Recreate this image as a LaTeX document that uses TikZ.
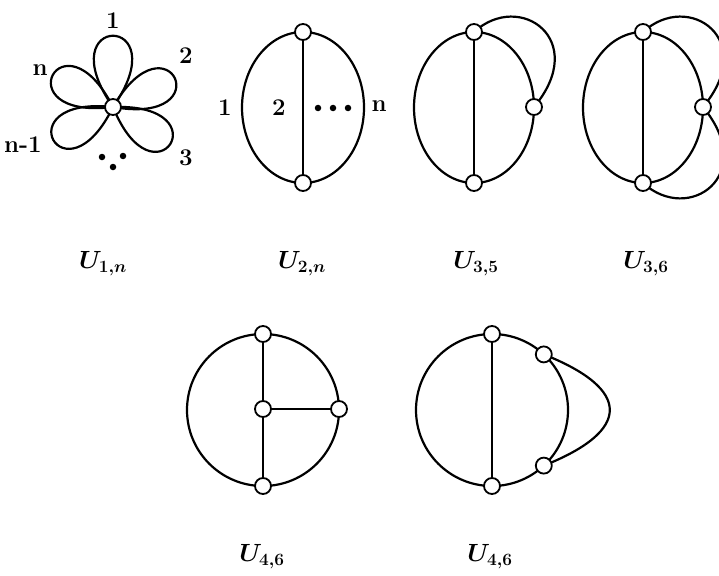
\documentclass[tikz,border=0pt]{standalone}
\usepackage{bm}
\usetikzlibrary{backgrounds}
\begin{document}
\begin{tikzpicture}[x=1pt,y=-1pt,
  edge/.style={line width=2.2pt},
  vtx/.style={circle,draw,fill=white,inner sep=0pt,minimum size=16pt,line width=1.8pt},
  lbl/.style={font=\fontsize{24}{28}\selectfont\bfseries,inner sep=0pt},
  captxt/.style={font=\fontsize{26}{30}\selectfont\boldmath,inner sep=0pt},
  dotm/.style={circle,fill=black,inner sep=0pt,minimum size=6.5pt}]
\useasboundingbox (0,0) rectangle (719,575);
\clip (0,0) rectangle (719,575);

% ---------- U_{1,n}
\node[vtx] (v1) at (113,107) {};
\begin{scope}[on background layer]
\foreach \a/\d in {-90/116,-25/111,33/111,151/111,-152/111}
  \draw[edge] (v1.center) .. controls +({\a-35}:\d) and +({\a+35}:\d) .. (v1.center);
\end{scope}
\node[lbl] (l11) at (113,21) {1};
\node[lbl] (l12) at (186,56) {2};
\node[lbl] (l1n) at (40,70) {n};
\node[lbl] (l1m) at (23,145) {n-1};
\node[lbl] (l13) at (186,158) {3};
\node[dotm] (d11) at (102,157) {};
\node[dotm] (d12) at (123,156) {};
\node[dotm] (d13) at (113,167) {};
\node[captxt] (c1) at (103,264) {$U_{1,n}$};

% ---------- U_{2,n}
\node[vtx] (t2) at (303,32) {};
\node[vtx] (b2) at (303,183) {};
\begin{scope}[on background layer]
\draw[edge] (303,107.5) ellipse [x radius=61,y radius=75.5];
\draw[edge] (t2) -- (b2);
\end{scope}
\node[lbl] (l21) at (225,108) {1};
\node[lbl] (l22) at (279,108) {2};
\node[dotm] (d21) at (318,108) {};
\node[dotm] (d22) at (333,108) {};
\node[dotm] (d23) at (348,108) {};
\node[lbl] (l2n) at (379,106) {n};
\node[captxt] (c2) at (302,264) {$U_{2,n}$};

% ---------- U_{3,5}
\node[vtx] (t3) at (474,32) {};
\node[vtx] (b3) at (474,183) {};
\node[vtx] (r3) at (534,107) {};
\begin{scope}[on background layer]
\draw[edge] (474,107.5) ellipse [x radius=60,y radius=75.5];
\draw[edge] (t3) -- (b3);
\draw[edge] (t3.center) .. controls (520,-10) and (590,40) .. (r3.center);
\end{scope}
\node[captxt] (c3) at (476,264) {$U_{3,5}$};

% ---------- U_{3,6}
\node[vtx] (t4) at (643,32) {};
\node[vtx] (b4) at (643,183) {};
\node[vtx] (r4) at (703,107) {};
\begin{scope}[on background layer]
\draw[edge] (643,107.5) ellipse [x radius=60,y radius=75.5];
\draw[edge] (t4) -- (b4);
\draw[edge] (t4.center) .. controls (689,-10) and (759,40) .. (r4.center);
\draw[edge] (r4.center) .. controls (759,175) and (689,225) .. (b4.center);
\end{scope}
\node[captxt] (c4) at (646,264) {$U_{3,6}$};

% ---------- U_{4,6} (a)
\node[vtx] (ta) at (263,334) {};
\node[vtx] (ca) at (263,409) {};
\node[vtx] (ra) at (339,409) {};
\node[vtx] (ba) at (263,486) {};
\begin{scope}[on background layer]
\draw[edge] (263,410) circle [radius=76];
\draw[edge] (ta) -- (ca);
\draw[edge] (ca) -- (ra);
\draw[edge] (ca) -- (ba);
\end{scope}
\node[captxt] (c5) at (262,557) {$U_{4,6}$};

% ---------- U_{4,6} (b)
\node[vtx] (tb) at (492,334) {};
\node[vtx] (bb) at (492,486) {};
\node[vtx] (ub) at (543.8,354.4) {};
\node[vtx] (lb) at (543.8,465.6) {};
\begin{scope}[on background layer]
\draw[edge] (492,410) circle [radius=76];
\draw[edge] (tb) -- (bb);
\draw[edge] (ub.center) .. controls +(88,35) and +(88,-35) .. (lb.center);
\end{scope}
\node[captxt] (c6) at (490,557) {$U_{4,6}$};
\end{tikzpicture}
\end{document}
